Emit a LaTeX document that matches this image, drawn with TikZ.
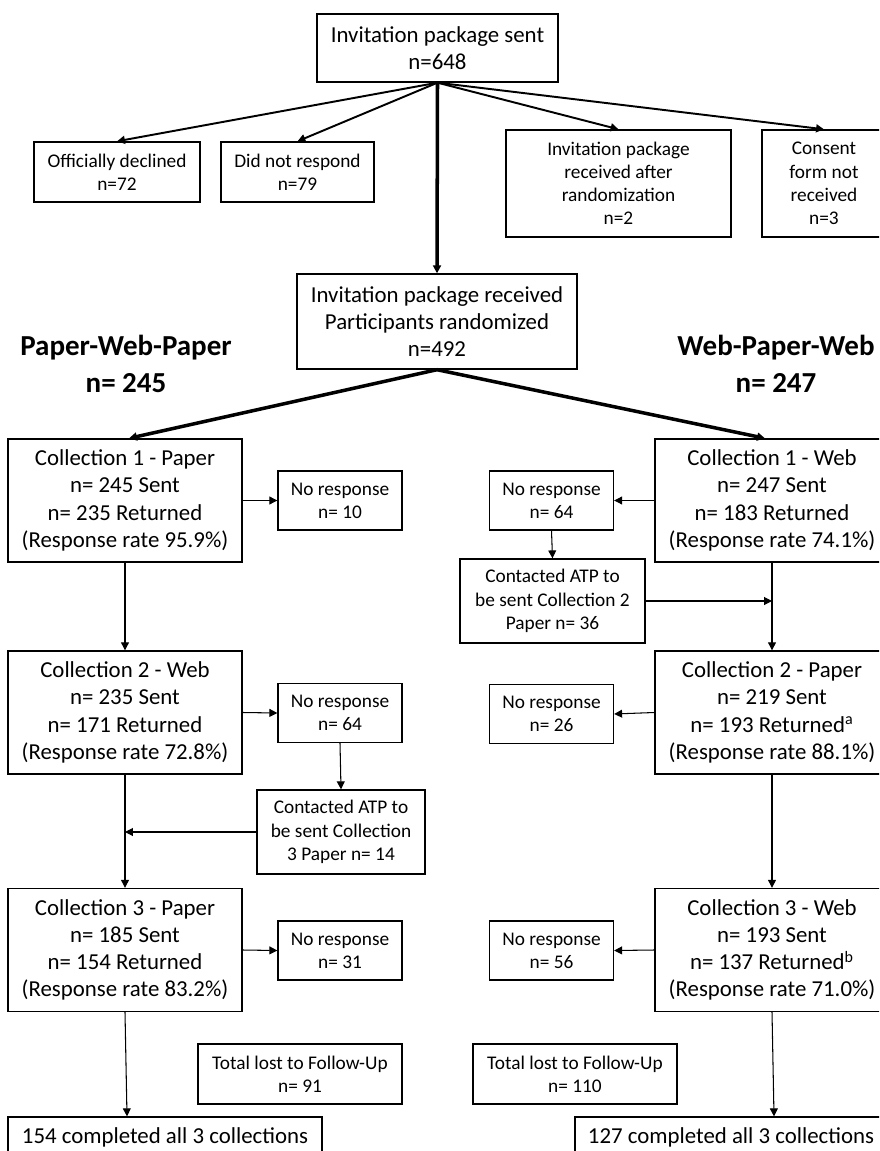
\documentclass[tikz,border=0pt]{standalone}
\usepackage{fontspec}
\setmainfont{Carlito}
\usetikzlibrary{arrows.meta}

\tikzset{
  box/.style={draw, line width=0.8pt, align=center, inner sep=0pt, font=\fontsize{13}{15.5}\selectfont},
  smallbox/.style={draw, line width=0.8pt, align=center, inner sep=0pt, font=\fontsize{11}{13.2}\selectfont},
  collbox/.style={box, minimum width=4.68cm, minimum height=2.46cm},
  nrbox/.style={smallbox, minimum width=2.48cm, minimum height=1.18cm},
  heading/.style={align=center, font=\bfseries\fontsize{16.5}{21}\selectfont},
  link/.style={->, line width=0.6pt},
  fan/.style={->, line width=1.1pt},
  trunk/.style={->, line width=2pt},
}

\begin{document}
\begin{tikzpicture}[x=0.02cm, y=-0.02cm, >={Triangle[length=4.5pt,width=4.5pt]}]
\clip (0,0) rectangle (879,1151);
\fill[white] (0,0) rectangle (879,1151);

% Enrolment
\node[box, minimum width=4.82cm, minimum height=1.36cm] (sent) at (437.5,48) {Invitation package sent\\n=648};
\node[smallbox, minimum width=3.32cm, minimum height=1.2cm] (declined) at (117,172) {Officially declined\\n=72};
\node[smallbox, minimum width=3.06cm, minimum height=1.2cm] (norespond) at (297.5,172) {Did not respond\\n=79};
\node[smallbox, minimum width=4.5cm, minimum height=2.14cm] (late) at (618.5,183.5) {Invitation package\\received after\\randomization\\n=2};
\node[smallbox, minimum width=2.48cm, minimum height=2.14cm] (consent) at (824,183.5) {Consent\\form not\\received\\n=3};
\node[box, minimum width=5.6cm, minimum height=1.9cm] (rand) at (437,321.5) {Invitation package received\\Participants randomized\\n=492};

% Arm headings
\node[heading] (armA) at (126,363.5) {Paper-Web-Paper\\n= 245};
\node[heading] (armB) at (776,363.5) {Web-Paper-Web\\n= 247};

% Paper-Web-Paper arm
\node[collbox] (c1p) at (125,500.5) {Collection 1 - Paper\\n= 245 Sent\\n= 235 Returned\\(Response rate 95.9\%)};
\node[nrbox] (nr10) at (340,500.5) {No response\\n= 10};
\node[collbox] (c2w) at (125,712.5) {Collection 2 - Web\\n= 235 Sent\\n= 171 Returned\\(Response rate 72.8\%)};
\node[nrbox] (nr64l) at (340,713) {No response\\n= 64};
\node[smallbox, minimum width=3.36cm, minimum height=1.68cm] (atpl) at (341,832) {Contacted ATP to\\be sent Collection\\3 Paper n= 14};
\node[collbox] (c3p) at (125,950) {Collection 3 - Paper\\n= 185 Sent\\n= 154 Returned\\(Response rate 83.2\%)};
\node[nrbox] (nr31) at (340,950.5) {No response\\n= 31};
\node[smallbox, minimum width=4.08cm, minimum height=1.2cm] (lost91) at (300,1074) {Total lost to Follow-Up\\n= 91};
\node[box, minimum width=6.28cm, minimum height=0.8cm] (done154) at (165,1137) {154 completed all 3 collections};

% Web-Paper-Web arm
\node[collbox] (c1w) at (772,500.5) {Collection 1 - Web\\n= 247 Sent\\n= 183 Returned\\(Response rate 74.1\%)};
\node[nrbox] (nr64r) at (551.5,500.5) {No response\\n= 64};
\node[smallbox, minimum width=3.7cm, minimum height=1.68cm] (atpr) at (552.5,601) {Contacted ATP to\\be sent Collection 2\\Paper n= 36};
\node[collbox] (c2p) at (772,712.5) {Collection 2 - Paper\\n= 219 Sent\\n= 193 Returned\textsuperscript{a}\\(Response rate 88.1\%)};
\node[nrbox] (nr26) at (551.5,714) {No response\\n= 26};
\node[collbox] (c3w) at (772,950) {Collection 3 - Web\\n= 193 Sent\\n= 137 Returned\textsuperscript{b}\\(Response rate 71.0\%)};
\node[nrbox] (nr56) at (551.5,950.5) {No response\\n= 56};
\node[smallbox, minimum width=4.08cm, minimum height=1.2cm] (lost110) at (575,1074) {Total lost to Follow-Up\\n= 110};
\node[box, minimum width=6.24cm, minimum height=0.8cm] (done127) at (731,1137) {127 completed all 3 collections};

% Exclusions
\draw[fan] (sent.south) -- (declined.north);
\draw[fan] (sent.south) -- (norespond.north);
\draw[fan] (sent.south) -- (late.north);
\draw[fan] (sent.south) -- (consent.north);
\draw[trunk] (sent.south) -- (rand.north);

% Randomization
\draw[trunk] (rand.south) -- ([xshift=0.08cm]c1p.north);
\draw[trunk] (rand.south) -- ([xshift=-0.14cm]c1w.north);

% Left arm flow
\draw[link] (c1p.east) -- (nr10.west);
\draw[link] (c1p.south) -- (c2w.north);
\draw[link] (c2w.east) -- (nr64l.west);
\draw[link] (nr64l.south) -- (atpl.north);
\coordinate (joinl) at (atpl.west -| c2w.south);
\draw[link] (atpl.west) -- (joinl);
\draw[link] (c2w.south) -- (c3p.north);
\draw[link] (c3p.east) -- (nr31.west);
\coordinate (endl) at (c3p.south |- done154.north);
\draw[link] (c3p.south) -- ([xshift=0.04cm]endl);

% Right arm flow
\draw[link] (c1w.west) -- (nr64r.east);
\draw[link] (nr64r.south) -- (atpr.north);
\coordinate (joinr) at (atpr.east -| c1w.south);
\draw[link] (atpr.east) -- (joinr);
\draw[link] (c1w.south) -- (c2p.north);
\draw[link] (c2p.west) -- (nr26.east);
\draw[link] (c2p.south) -- (c3w.north);
\draw[link] (c3w.west) -- (nr56.east);
\coordinate (endr) at (c3w.south |- done127.north);
\draw[link] (c3w.south) -- ([xshift=0.04cm]endr);
\end{tikzpicture}
\end{document}
